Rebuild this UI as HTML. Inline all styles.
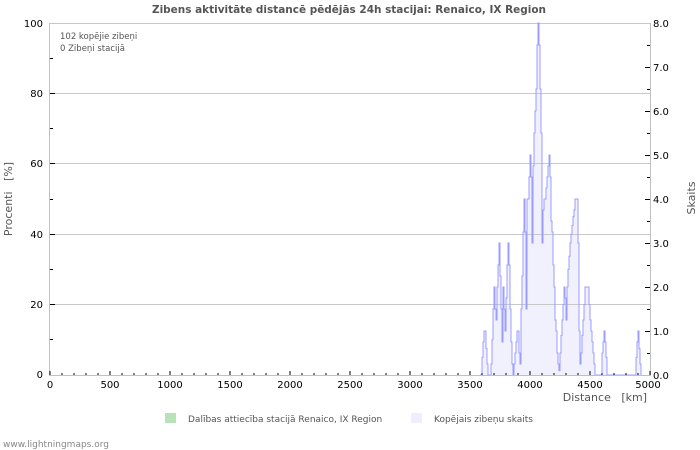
<!DOCTYPE html>
<html><head><meta charset="utf-8">
<style>
html,body{margin:0;padding:0;background:#fff;}
svg{display:block;}
text{font-family:"DejaVu Sans","Liberation Sans",sans-serif;}
</style></head>
<body>
<svg width="700" height="450" viewBox="0 0 700 450" xmlns="http://www.w3.org/2000/svg">
<rect width="700" height="450" fill="#fff"/>
<text x="152" y="13" font-size="10.5" font-weight="bold" fill="#555" textLength="394" lengthAdjust="spacingAndGlyphs">Zibens aktivitāte distancē pēdējās 24h stacijai: Renaico, IX Region</text>

<!-- data fill -->
<path d="M480,375 H482 V357.4 H483 V342 H484 V331 H486 V348.6 H487 V364 H488 V375 H491 V364 H492 V339.8 H493 V309 H494 V287 H495 V309 H496 V320 H497 V287 H498 V265 H499 V243 H500 V276 H501 V309 H502 V342 H503 V287 H504 V309 H505 V331 H506 V298 H507 V265 H508 V243 H509 V265 H510 V309 H511 V342 H512 V364 H513 V375 H514 V364 H515 V353 H516 V342 H517 V331 H519 V353 H520 V364 H521 V309 H522 V276 H523 V232 H524 V199 H525 V232 H526 V309 H527 V199 H529 V177 H530 V155 H531 V177 H532 V243 H533 V166 H534 V133 H535 V111 H536 V89 H537 V45 H538 V23 H539 V45 H540 V89 H541 V133 H542 V243 H543 V210 H544 V199 H546 V188 H547 V177 H548 V166 H549 V155 H550 V177 H551 V221 H552 V232 H553 V265 H554 V287 H555 V320 H556 V331 H557 V353 H558 V364 H559 V370.6 H560 V353 H561 V335.4 H562 V320 H563 V304.6 H564 V287 H565 V298 H566 V320 H567 V287 H568 V269.4 H569 V256.2 H570 V243 H571 V234.2 H572 V225.4 H573 V216.6 H574 V210 H575 V199 H578 V243 H579 V331 H580 V364 H581 V353 H582 V335.4 H583 V320 H584 V304.6 H585 V287 H589 V304.6 H590 V320 H591 V331 H592 V342 H593 V353 H594 V364 H595 V375 H602 V353 H603 V342 H604 V331 H605 V342 H606 V357.4 H607 V375 H636 V357.4 H637 V342 H638 V331 H639 V348.6 H640 V364 H641 V375 Z" fill="#f1f1fd" stroke="none"/>

<!-- grid -->
<g stroke="#c8c8c8" stroke-width="1" shape-rendering="crispEdges">
<line x1="50" y1="23.5" x2="650" y2="23.5"/>
<line x1="50" y1="93.5" x2="650" y2="93.5"/>
<line x1="50" y1="163.5" x2="650" y2="163.5"/>
<line x1="50" y1="234.5" x2="650" y2="234.5"/>
<line x1="50" y1="304.5" x2="650" y2="304.5"/>
</g>

<!-- data line -->
<path d="M480,375 H482 V357.4 H483 V342 H484 V331 H486 V348.6 H487 V364 H488 V375 H491 V364 H492 V339.8 H493 V309 H494 V287 H495 V309 H496 V320 H497 V287 H498 V265 H499 V243 H500 V276 H501 V309 H502 V342 H503 V287 H504 V309 H505 V331 H506 V298 H507 V265 H508 V243 H509 V265 H510 V309 H511 V342 H512 V364 H513 V375 H514 V364 H515 V353 H516 V342 H517 V331 H519 V353 H520 V364 H521 V309 H522 V276 H523 V232 H524 V199 H525 V232 H526 V309 H527 V199 H529 V177 H530 V155 H531 V177 H532 V243 H533 V166 H534 V133 H535 V111 H536 V89 H537 V45 H538 V23 H539 V45 H540 V89 H541 V133 H542 V243 H543 V210 H544 V199 H546 V188 H547 V177 H548 V166 H549 V155 H550 V177 H551 V221 H552 V232 H553 V265 H554 V287 H555 V320 H556 V331 H557 V353 H558 V364 H559 V370.6 H560 V353 H561 V335.4 H562 V320 H563 V304.6 H564 V287 H565 V298 H566 V320 H567 V287 H568 V269.4 H569 V256.2 H570 V243 H571 V234.2 H572 V225.4 H573 V216.6 H574 V210 H575 V199 H578 V243 H579 V331 H580 V364 H581 V353 H582 V335.4 H583 V320 H584 V304.6 H585 V287 H589 V304.6 H590 V320 H591 V331 H592 V342 H593 V353 H594 V364 H595 V375 H602 V353 H603 V342 H604 V331 H605 V342 H606 V357.4 H607 V375 H636 V357.4 H637 V342 H638 V331 H639 V348.6 H640 V364 H641 V375" fill="none" stroke="#9c9cff" stroke-width="1"/>

<!-- axes -->
<g stroke="#c0c0c0" stroke-width="1" shape-rendering="crispEdges">
<line x1="49.5" y1="23" x2="49.5" y2="375"/>
<line x1="650.5" y1="23" x2="650.5" y2="375"/>
<line x1="49" y1="375.5" x2="651" y2="375.5"/>
</g>

<!-- ticks -->
<g stroke="#000" stroke-width="1" shape-rendering="crispEdges">
<!-- bottom major -->
<path d="M50,375V371 M110,375V371 M170,375V371 M230,375V371 M290,375V371 M350,375V371 M410,375V371 M470,375V371 M530,375V371 M590,375V371 M650,375V371"/>
<!-- bottom minor -->
<path d="M62,375V373 M74,375V373 M86,375V373 M98,375V373 M122,375V373 M134,375V373 M146,375V373 M158,375V373 M182,375V373 M194,375V373 M206,375V373 M218,375V373 M242,375V373 M254,375V373 M266,375V373 M278,375V373 M302,375V373 M314,375V373 M326,375V373 M338,375V373 M362,375V373 M374,375V373 M386,375V373 M398,375V373 M422,375V373 M434,375V373 M446,375V373 M458,375V373 M482,375V373 M494,375V373 M506,375V373 M518,375V373 M542,375V373 M554,375V373 M566,375V373 M578,375V373 M602,375V373 M614,375V373 M626,375V373 M638,375V373"/>
<!-- left major -->
<path d="M50,93.5H55 M50,163.5H55 M50,234.5H55 M50,304.5H55"/>
<!-- left minor -->
<path d="M50,58.5H53 M50,128.5H53 M50,199.5H53 M50,269.5H53 M50,339.5H53"/>
<!-- right major -->
<path d="M645,67.5H650 M645,111.5H650 M645,155.5H650 M645,199.5H650 M645,243.5H650 M645,287.5H650 M645,331.5H650"/>
<!-- right minor -->
<path d="M647,45.5H650 M647,89.5H650 M647,133.5H650 M647,177.5H650 M647,221.5H650 M647,265.5H650 M647,309.5H650 M647,353.5H650"/>
</g>

<!-- left labels -->
<g font-size="10" fill="#000" text-anchor="end">
<text x="43" y="27">100</text>
<text x="43" y="97">80</text>
<text x="43" y="167">60</text>
<text x="43" y="238">40</text>
<text x="43" y="308">20</text>
<text x="43" y="378">0</text>
</g>
<!-- right labels -->
<g font-size="10" fill="#000" text-anchor="start">
<text x="653" y="27">8.0</text>
<text x="653" y="71">7.0</text>
<text x="653" y="115">6.0</text>
<text x="653" y="159">5.0</text>
<text x="653" y="203">4.0</text>
<text x="653" y="247">3.0</text>
<text x="653" y="291">2.0</text>
<text x="653" y="335">1.0</text>
<text x="653" y="379">0.0</text>
</g>
<!-- bottom labels -->
<g font-size="10" fill="#000" text-anchor="middle">
<text x="50" y="388">0</text>
<text x="110" y="388">500</text>
<text x="170" y="388">1000</text>
<text x="230" y="388">1500</text>
<text x="290" y="388">2000</text>
<text x="350" y="388">2500</text>
<text x="410" y="388">3000</text>
<text x="470" y="388">3500</text>
<text x="530" y="388">4000</text>
<text x="590" y="388">4500</text>
<text x="648" y="388">5000</text>
</g>

<!-- annotation -->
<text x="60" y="39" font-size="8.5" fill="#555">102 kopējie zibeņi</text>
<text x="60" y="51" font-size="8.5" fill="#555">0 Zibeņi stacijā</text>

<!-- axis titles -->
<text x="647" y="401" font-size="11" fill="#555" text-anchor="end" xml:space="preserve">Distance   [km]</text>
<text transform="translate(12,199) rotate(-90)" font-size="11" fill="#555" text-anchor="middle" xml:space="preserve">Procenti   [%]</text>
<text transform="translate(695,198) rotate(-90)" font-size="11" fill="#555" text-anchor="middle">Skaits</text>

<!-- legend -->
<rect x="165" y="413" width="11" height="10" fill="#b8e2b8"/>
<text x="188" y="422" font-size="9" fill="#555">Dalības attiecība stacijā Renaico, IX Region</text>
<rect x="411" y="413" width="11" height="10" fill="#eeeeff"/>
<text x="434" y="422" font-size="9" fill="#555">Kopējais zibeņu skaits</text>

<text x="3" y="447" font-size="9" fill="#888">www.lightningmaps.org</text>
</svg>
</body></html>
